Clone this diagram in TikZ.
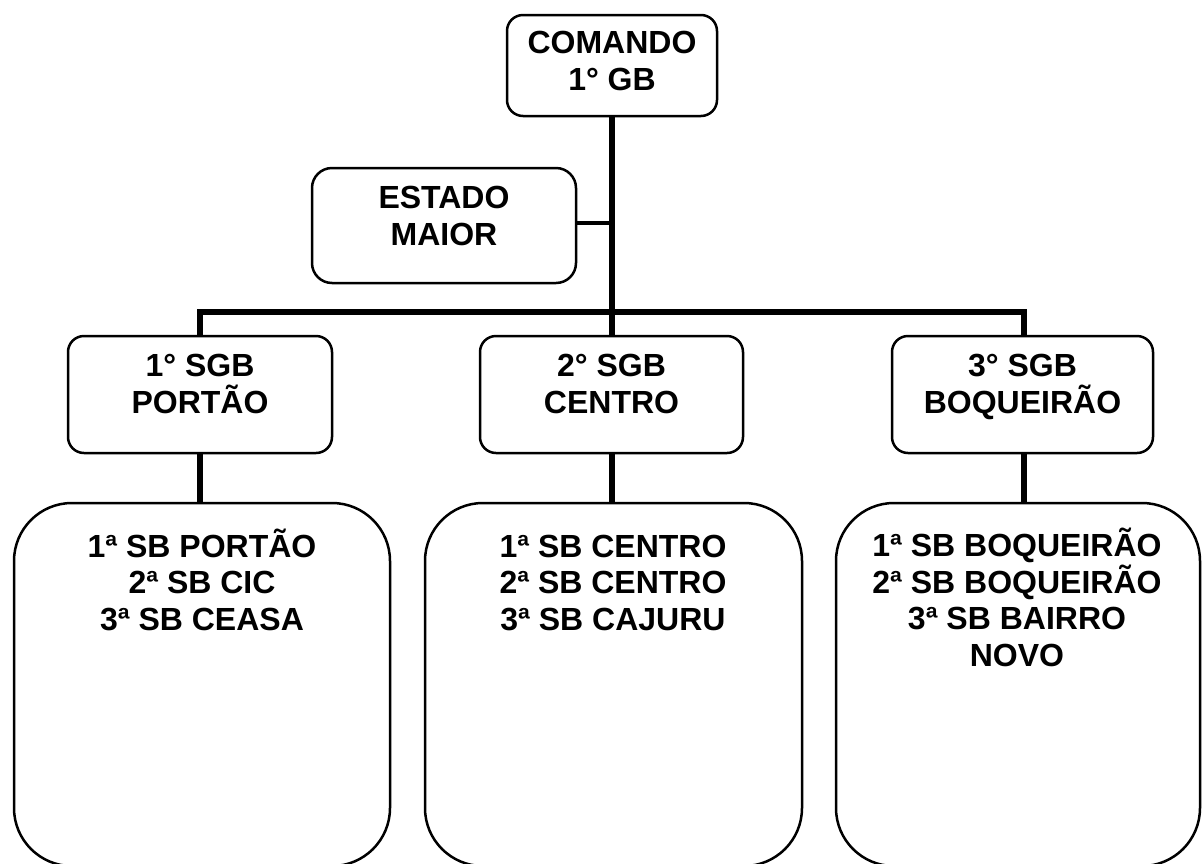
\documentclass[tikz,border=0pt]{standalone}
\usepackage{fontspec}
\setmainfont{Liberation Sans}
\tikzset{
  box/.style={draw=black, line width=2.5pt, rounded corners=16pt, fill=white, inner sep=0pt},
  bigbox/.style={draw=black, line width=2.5pt, rounded corners=58pt, fill=white, inner sep=0pt},
  txt/.style={align=center, inner sep=0pt, anchor=base, font=\fontsize{32}{36.5}\selectfont\bfseries},
  conn/.style={line width=6.5pt},
  thinconn/.style={line width=4pt}
}
\begin{document}
\begin{tikzpicture}[x=1pt,y=-1pt]
\useasboundingbox (0,0) rectangle (1203,863);
\clip (0,0) rectangle (1203,863);
% boxes
\node[box, minimum width=210pt, minimum height=101pt] (cmd) at (612,65.5) {};
\node[box, rounded corners=20pt, minimum width=264pt, minimum height=115pt] (est) at (444,225.5) {};
\node[box, minimum width=264pt, minimum height=117pt] (sgb1) at (200,394.5) {};
\node[box, minimum width=263pt, minimum height=117pt] (sgb2) at (611.5,394.5) {};
\node[box, minimum width=261pt, minimum height=117pt] (sgb3) at (1022.5,394.5) {};
\node[bigbox, minimum width=376pt, minimum height=363pt] (sb1) at (202,684.5) {};
\node[bigbox, minimum width=377pt, minimum height=363pt] (sb2) at (613.5,684.5) {};
\node[bigbox, minimum width=364pt, minimum height=363pt] (sb3) at (1018,684.5) {};
% texts (anchor base = baseline of the last line)
\node[txt] (tcmd) at (612,90) {COMANDO\\1° GB};
\node[txt] (test) at (444,245) {ESTADO\\MAIOR};
\node[txt] (tsgb1) at (200,413) {1° SGB\\PORTÃO};
\node[txt] (tsgb2) at (611.5,413) {2° SGB\\CENTRO};
\node[txt] (tsgb3) at (1022.5,413) {3° SGB\\BOQUEIRÃO};
\node[txt] (tsb1) at (202,630) {1ª SB PORTÃO\\2ª SB CIC\\3ª SB CEASA};
\node[txt] (tsb2) at (613,630) {1ª SB CENTRO\\2ª SB CENTRO\\3ª SB CAJURU};
\node[txt] (tsb3) at (1017,666) {1ª SB BOQUEIRÃO\\2ª SB BOQUEIRÃO\\3ª SB BAIRRO\\NOVO};
% connectors
\coordinate (bar) at (612,312);
\coordinate (barL) at (200,312);
\coordinate (barR) at (1024,312);
\coordinate (estj) at (612,223);
\draw[conn] (cmd.south -| bar) -- (bar);
\draw[thinconn] (est.east |- estj) -- (estj);
\draw[conn, line cap=rect] (barL) -- (barR);
\draw[conn] (barL) -- (sgb1.north -| barL);
\draw[conn] (barR) -- (sgb3.north -| barR);
\draw[conn] (bar) -- (sgb2.north -| bar);
\draw[conn] (sgb1.south -| barL) -- (sb1.north -| barL);
\draw[conn] (sgb2.south -| bar) -- (sb2.north -| bar);
\draw[conn] (sgb3.south -| barR) -- (sb3.north -| barR);
\end{tikzpicture}
\end{document}
